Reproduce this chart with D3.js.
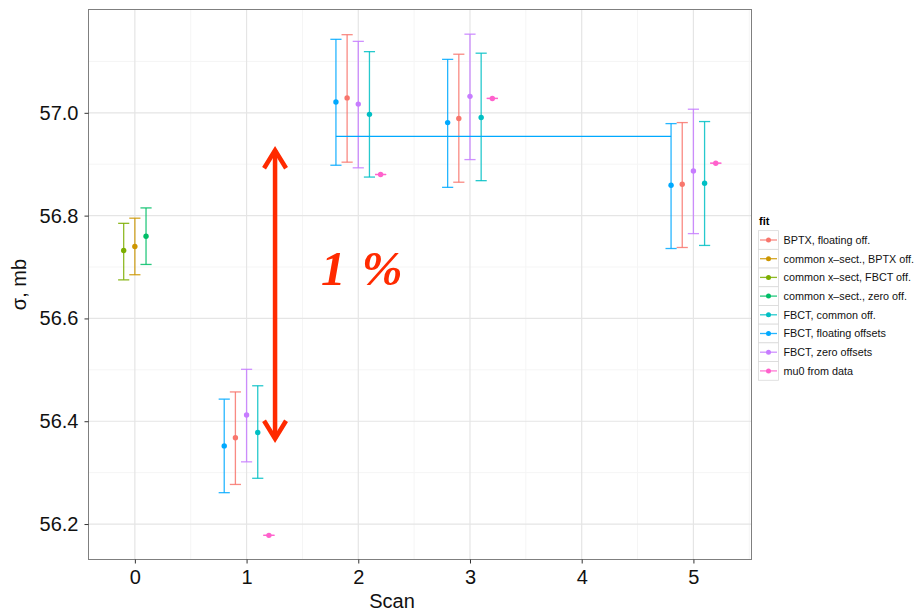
<!DOCTYPE html>
<html>
<head>
<meta charset="utf-8">
<script src="https://cdn.jsdelivr.net/npm/d3@7"></script>
<style>
  body { margin: 0; background: #fff; }
  svg { font-family: "Liberation Sans", Arial, sans-serif; }
</style>
</head>
<body>
<div id="chart"></div>
<script>
// fit names in legend order, and the hue palette ggplot gives them
const fits = [
    "BPTX, floating off.",
    "common x\u2013sect., BPTX off.",
    "common x\u2013sect, FBCT off.",
    "common x\u2013sect., zero off.",
    "FBCT, common off.",
    "FBCT, floating offsets",
    "FBCT, zero offsets",
    "mu0 from data"
];
const fitColors = ["#F8766D", "#CD9600", "#7CAE00", "#00BE67", "#00BFC4", "#00A9FF", "#C77CFF", "#FF61CC"];

// order the fits sit side by side inside one scan
const dodgeOrder = [
    "common x\u2013sect, FBCT off.",
    "common x\u2013sect., BPTX off.",
    "common x\u2013sect., zero off.",
    "FBCT, floating offsets",
    "BPTX, floating off.",
    "FBCT, zero offsets",
    "FBCT, common off.",
    "mu0 from data"
];

// [scan, sigma, low, high]
const bptxFloating = [[1, 56.368, 56.277, 56.457], [2, 57.029, 56.904, 57.152], [3, 56.989, 56.865, 57.114], [5, 56.861, 56.738, 56.981]];
const commonBptx   = [[0, 56.740, 56.685, 56.795]];
const commonFbct   = [[0, 56.732, 56.675, 56.785]];
const commonZero   = [[0, 56.760, 56.705, 56.815]];
const fbctCommon   = [[1, 56.378, 56.289, 56.469], [2, 56.997, 56.875, 57.119], [3, 56.991, 56.868, 57.116], [5, 56.863, 56.742, 56.983]];
const fbctFloating = [[1, 56.352, 56.261, 56.443], [2, 57.021, 56.898, 57.143], [3, 56.981, 56.855, 57.104], [5, 56.859, 56.736, 56.979]];
const fbctZero     = [[1, 56.412, 56.321, 56.501], [2, 57.017, 56.893, 57.139], [3, 57.032, 56.909, 57.153], [5, 56.887, 56.765, 57.007]];
const mu0Data      = [[1, 56.178, 56.178, 56.178], [2, 56.880, 56.880, 56.880], [3, 57.028, 57.028, 57.028], [5, 56.902, 56.902, 56.902]];

const seriesByFit = [bptxFloating, commonBptx, commonFbct, commonZero, fbctCommon, fbctFloating, fbctZero, mu0Data];

// mean of the FBCT floating fits over scans 2..5
const meanLine = { fit: "FBCT, floating offsets", from: 2, to: 5, value: 56.954 };

// the 1 % annotation, in data units
const arrowSpan = { scan: 1.255, low: 56.360, high: 56.933 };
const noteText = "1 %";

const xTicks = [0, 1, 2, 3, 4, 5];
const yTicks = [56.2, 56.4, 56.6, 56.8, 57.0];

const W = 916, H = 612;
const panel = { left: 88.5, right: 751.5, top: 9.5, bottom: 559.5 };

const svg = d3.select("#chart").append("svg")
    .attr("width", W)
    .attr("height", H);

const x = d3.scaleLinear().domain([-0.415, 5.52]).range([panel.left, panel.right]);
const y = d3.scaleLinear().domain([56.131, 57.201]).range([panel.bottom, panel.top]);

// flatten the points and dodge them within each scan
let points = [];
seriesByFit.forEach((rows, i) => {
    rows.forEach(r => points.push({ fit: fits[i], color: fitColors[i], scan: r[0], v: r[1], lo: r[2], hi: r[3] }));
});
d3.group(points, d => d.scan).forEach(group => {
    group.sort((a, b) => dodgeOrder.indexOf(a.fit) - dodgeOrder.indexOf(b.fit));
    group.forEach((d, i) => { d.pos = d.scan + (i - (group.length - 1) / 2) * 0.1; });
});

// panel background + grid
svg.append("rect")
    .attr("x", panel.left).attr("y", panel.top)
    .attr("width", panel.right - panel.left).attr("height", panel.bottom - panel.top)
    .attr("fill", "#fff");

const grid = svg.append("g");
const minorX = d3.range(-0.5, 6, 1).filter(v => x(v) > panel.left && x(v) < panel.right);
const minorY = d3.range(56.1, 57.25, 0.2).filter(v => y(v) > panel.top && y(v) < panel.bottom);

grid.selectAll(".mx").data(minorX).enter().append("line")
    .attr("x1", d => x(d)).attr("x2", d => x(d))
    .attr("y1", panel.top).attr("y2", panel.bottom)
    .attr("stroke", "#f5f5f5").attr("stroke-width", 1);
grid.selectAll(".my").data(minorY).enter().append("line")
    .attr("x1", panel.left).attr("x2", panel.right)
    .attr("y1", d => y(d)).attr("y2", d => y(d))
    .attr("stroke", "#f5f5f5").attr("stroke-width", 1);
grid.selectAll(".gx").data(xTicks).enter().append("line")
    .attr("x1", d => x(d)).attr("x2", d => x(d))
    .attr("y1", panel.top).attr("y2", panel.bottom)
    .attr("stroke", "#e5e5e5").attr("stroke-width", 1.2);
grid.selectAll(".gy").data(yTicks).enter().append("line")
    .attr("x1", panel.left).attr("x2", panel.right)
    .attr("y1", d => y(d)).attr("y2", d => y(d))
    .attr("stroke", "#e5e5e5").attr("stroke-width", 1.2);

// error bars
const whisker = 0.05;
const bars = svg.append("g");
points.forEach(d => {
    const g = bars.append("g")
        .attr("stroke", d.color)
        .attr("stroke-width", 1.3)
        .attr("stroke-opacity", 0.85);
    g.append("line")
        .attr("x1", x(d.pos)).attr("x2", x(d.pos))
        .attr("y1", y(d.lo)).attr("y2", y(d.hi));
    [d.lo, d.hi].forEach(v => {
        g.append("line")
            .attr("x1", x(d.pos - whisker)).attr("x2", x(d.pos + whisker))
            .attr("y1", y(v)).attr("y2", y(v));
    });
});

// mean line for the FBCT floating fits
const meanPts = points.filter(d => d.fit === meanLine.fit && (d.scan === meanLine.from || d.scan === meanLine.to));
svg.append("line")
    .attr("x1", x(d3.min(meanPts, d => d.pos)))
    .attr("x2", x(d3.max(meanPts, d => d.pos)))
    .attr("y1", y(meanLine.value)).attr("y2", y(meanLine.value))
    .attr("stroke", fitColors[fits.indexOf(meanLine.fit)])
    .attr("stroke-width", 1.3);

// points
svg.append("g").selectAll("circle")
    .data(points)
    .enter()
    .append("circle")
    .attr("cx", d => x(d.pos))
    .attr("cy", d => y(d.v))
    .attr("r", 2.7)
    .attr("fill", d => d.color);

// panel border
svg.append("rect")
    .attr("x", panel.left).attr("y", panel.top)
    .attr("width", panel.right - panel.left).attr("height", panel.bottom - panel.top)
    .attr("fill", "none").attr("stroke", "#7f7f7f").attr("stroke-width", 1);

// axes
const xAxis = svg.append("g")
    .attr("transform", `translate(0, ${panel.bottom})`)
    .call(d3.axisBottom(x).tickValues(xTicks).tickFormat(d3.format("d")).tickSize(4).tickPadding(6));
const yAxis = svg.append("g")
    .attr("transform", `translate(${panel.left}, 0)`)
    .call(d3.axisLeft(y).tickValues(yTicks).tickFormat(d3.format(".1f")).tickSize(4).tickPadding(6));

[xAxis, yAxis].forEach(a => {
    a.select(".domain").remove();
    a.selectAll(".tick line").attr("stroke", "#333");
    a.selectAll(".tick text")
        .attr("fill", "#111")
        .style("font-size", "20px")
        .style("font-family", "'Liberation Sans', Arial, sans-serif");
});

svg.append("text")
    .attr("x", 392)
    .attr("y", 608)
    .attr("text-anchor", "middle")
    .style("font-size", "20px")
    .attr("fill", "#111")
    .text("Scan");

svg.append("text")
    .attr("transform", `translate(26, ${(panel.top + panel.bottom) / 2}) rotate(-90)`)
    .attr("text-anchor", "middle")
    .style("font-size", "20px")
    .attr("fill", "#111")
    .text("\u03c3, mb");

// 1 % arrow
const red = "#ff2a00";
const ax = x(arrowSpan.scan);
const yTop = y(arrowSpan.high), yBot = y(arrowSpan.low);
const arrow = svg.append("g")
    .attr("stroke", red)
    .attr("stroke-width", 4.5)
    .attr("fill", "none")
    .attr("stroke-linecap", "butt")
    .attr("stroke-linejoin", "miter");
arrow.append("line")
    .attr("x1", ax).attr("x2", ax)
    .attr("y1", yTop + 3).attr("y2", yBot - 3);
arrow.append("path")
    .attr("d", `M${ax - 11},${yTop + 21} L${ax},${yTop + 3} L${ax + 11},${yTop + 21}`);
arrow.append("path")
    .attr("d", `M${ax - 11},${yBot - 21} L${ax},${yBot - 3} L${ax + 11},${yBot - 21}`);

svg.append("text")
    .attr("x", 321)
    .attr("y", 285)
    .attr("fill", red)
    .style("font-family", "'Liberation Serif', 'Times New Roman', serif")
    .style("font-style", "italic")
    .style("font-weight", "bold")
    .style("font-size", "49px")
    .style("word-spacing", "4px")
    .text(noteText);

// legend
const legend = svg.append("g")
    .attr("transform", "translate(758, 0)");

legend.append("text")
    .attr("x", 1)
    .attr("y", 225)
    .style("font-size", "11px")
    .style("font-weight", "bold")
    .text("fit");

const rowH = 18.7, firstRow = 240;
fits.forEach((name, i) => {
    const cy = firstRow + i * rowH;
    legend.append("rect")
        .attr("x", 0.5).attr("y", cy - rowH / 2)
        .attr("width", 20).attr("height", rowH)
        .attr("fill", "#fff")
        .attr("stroke", "#d9d9d9")
        .attr("stroke-width", 0.8);
    legend.append("line")
        .attr("x1", 2).attr("x2", 19)
        .attr("y1", cy).attr("y2", cy)
        .attr("stroke", fitColors[i])
        .attr("stroke-width", 1.3)
        .attr("stroke-opacity", 0.85);
    legend.append("circle")
        .attr("cx", 10.5).attr("cy", cy)
        .attr("r", 2.5)
        .attr("fill", fitColors[i]);
    legend.append("text")
        .attr("x", 25.5)
        .attr("y", cy + 3.8)
        .style("font-size", "10.8px")
        .attr("fill", "#111")
        .text(name);
});
</script>
</body>
</html>
